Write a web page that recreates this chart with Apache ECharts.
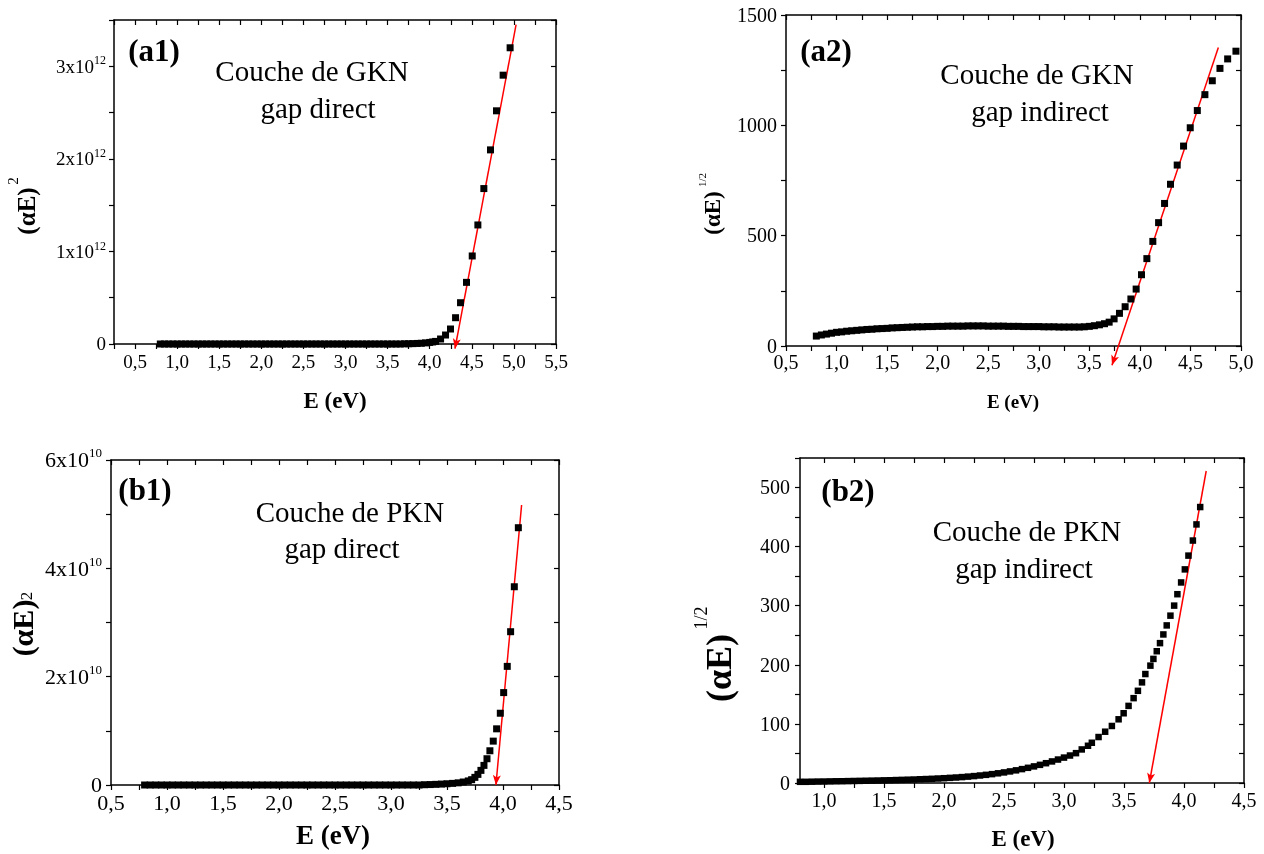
<!DOCTYPE html>
<html>
<head>
<meta charset="utf-8">
<script src="https://cdn.jsdelivr.net/npm/echarts@6/dist/echarts.min.js"></script>
<style>
html,body{margin:0;padding:0;background:#fff;}
#chart{width:1264px;height:854px;}
</style>
</head>
<body>
<div id="chart"></div>
<script>
// ---------- DATA ----------
// (a1) GKN, direct gap: (alpha E)^2 vs E
const a1Energy = [
 0.80,0.85,0.90,0.95,1.00,1.05,1.10,1.15,1.20,1.25,
 1.30,1.35,1.40,1.45,1.50,1.55,1.60,1.65,1.70,1.75,
 1.80,1.85,1.90,1.95,2.00,2.05,2.10,2.15,2.20,2.25,
 2.30,2.35,2.40,2.45,2.50,2.55,2.60,2.65,2.70,2.75,
 2.80,2.85,2.90,2.95,3.00,3.05,3.10,3.15,3.20,3.25,
 3.30,3.35,3.40,3.45,3.50,3.55,3.60,3.65,3.70,3.75,
 3.80,3.85,3.90,3.95,
 4.00,4.035,4.07,4.129,4.188,4.247,4.307,4.366,4.437,4.505,
 4.572,4.643,4.722,4.793,4.872,4.955
];
const a1Value = [
 0,0,0,0,0,0,0,0,0,0,
 0,0,0,0,0,0,0,0,0,0,
 0,0,0,0,0,0,0,0,0,0,
 0,0,0,0,0,0,0,0,0,0,
 0,0,0,0,0,0,0,0,0,0,
 0,0,0,0,0,0,0,0,0.002e12,0.003e12,
 0.004e12,0.006e12,0.008e12,0.012e12,
 0.017e12,0.022e12,0.028e12,0.054e12,0.097e12,0.162e12,0.284e12,0.446e12,0.666e12,0.951e12,
 1.286e12,1.679e12,2.097e12,2.519e12,2.904e12,3.20e12
];
const a1Fit = [[5.026, 3.45e12], [4.30, -0.05e12]];

// (a2) GKN, indirect gap: (alpha E)^1/2 vs E
const a2Energy = [
 0.80,0.85,0.90,0.95,1.00,1.05,1.10,1.15,1.20,1.25,
 1.30,1.35,1.40,1.45,1.50,1.55,1.60,1.65,1.70,1.75,
 1.80,1.85,1.90,1.95,2.00,2.05,2.10,2.15,2.20,2.25,
 2.30,2.35,2.40,2.45,2.50,2.55,2.60,2.65,2.70,2.75,
 2.80,2.85,2.90,2.95,3.00,3.05,3.10,3.15,3.20,3.25,
 3.30,3.35,3.40,3.45,3.50,3.55,3.60,3.65,
 3.696,3.745,3.798,3.854,3.911,3.963,4.016,4.069,4.128,4.185,
 4.244,4.303,4.369,4.432,4.498,4.568,4.643,4.716,4.792,4.868,4.95
];
const a2Value = [
 45,50,54,58,62,64,67,69,71,73,
 75,76,78,79,80,82,83,84,85,86,
 87,87,88,88,89,89,90,90,90,90,
 91,91,91,91,90,90,90,90,89,89,
 89,88,88,88,88,87,87,87,86,86,
 86,86,86,87,89,92,96,101,
 108,123,148,178,213,258,323,396,474,559,
 646,733,820,906,989,1067,1139,1202,1258,1301,1336
];
const a2Fit = [[4.776, 1353], [3.724, -87]];

// (b1) PKN, direct gap
const b1Energy = [
 0.80,0.85,0.90,0.95,1.00,1.05,1.10,1.15,1.20,1.25,
 1.30,1.35,1.40,1.45,1.50,1.55,1.60,1.65,1.70,1.75,
 1.80,1.85,1.90,1.95,2.00,2.05,2.10,2.15,2.20,2.25,
 2.30,2.35,2.40,2.45,2.50,2.55,2.60,2.65,2.70,2.75,
 2.80,2.85,2.90,2.95,3.00,3.05,3.10,3.15,3.20,3.25,
 3.30,3.35,3.40,3.45,3.50,3.55,3.60,
 3.645,3.69,3.72,3.749,3.776,3.803,3.830,3.857,3.883,3.913,
 3.943,3.976,4.006,4.038,4.068,4.101,4.137
];
const b1Value = [
 0,0,0,0,0,0,0,0,0,0,
 0,0,0,0,0,0,0,0,0,0,
 0,0,0,0,0,0,0,0,0,0,
 0,0,0,0,0,0,0,0,0,0,
 0,0,0,0,0,0,0,0,0,0,
 0.005e10,0.008e10,0.012e10,0.017e10,0.023e10,0.03e10,0.04e10,
 0.055e10,0.075e10,0.098e10,0.141e10,0.196e10,0.27e10,0.362e10,0.485e10,0.632e10,0.81e10,
 1.037e10,1.325e10,1.706e10,2.19e10,2.83e10,3.66e10,4.75e10
];
const b1Fit = [[4.166, 5.17e10], [3.937, 0]];

// (b2) PKN, indirect gap
const b2Energy = [
 0.80,0.85,0.90,0.95,1.00,1.05,1.10,1.15,1.20,1.25,
 1.30,1.35,1.40,1.45,1.50,1.55,1.60,1.65,1.70,1.75,
 1.80,1.85,1.90,1.95,2.00,2.05,2.10,2.15,2.20,2.25,
 2.30,2.35,2.40,2.45,2.50,2.55,2.60,2.65,2.70,2.75,
 2.80,2.85,2.90,2.95,
 3.00,3.05,3.10,3.148,3.20,3.232,3.288,3.343,3.399,3.455,
 3.497,3.538,3.58,3.616,3.65,3.678,3.72,3.745,3.773,3.80,
 3.828,3.856,3.887,3.918,3.945,3.976,4.007,4.037,4.074,4.104,4.135
];
const b2Value = [
 2.0,2.0,2.2,2.4,2.5,2.7,2.9,3.0,3.2,3.4,
 3.6,3.8,4.0,4.2,4.5,4.7,5.0,5.3,5.6,5.9,
 6.3,6.7,7.1,7.6,8.1,8.7,9.3,10.0,10.8,11.7,
 12.7,13.8,15.0,16.4,17.9,19.6,21.4,23.5,25.7,28.1,
 30.7,33.5,36.5,39.7,
 43,46.5,50.5,56.8,63,68.1,77.8,86.8,96.5,107.8,
 118,130.5,143.6,156,170.3,184.4,198.6,210,223,236.7,
 251.4,266.7,283.2,300.2,319.5,339.4,361.5,384.8,410.3,437.6,467
];
const b2Fit = [[4.185, 528], [3.711, 0]];

// tick values / tick labels
const a1XTicks = [0.25,0.5,0.75,1,1.25,1.5,1.75,2,2.25,2.5,2.75,3,3.25,3.5,3.75,4,4.25,4.5,4.75,5,5.25,5.5];
const a1XLabels = [0.5,1,1.5,2,2.5,3,3.5,4,4.5,5,5.5];
const a1YTicks = [0,0.5e12,1e12,1.5e12,2e12,2.5e12,3e12,3.5e12];
const a1YLabels = [0,1e12,2e12,3e12];

const a2XTicks = [0.5,0.75,1,1.25,1.5,1.75,2,2.25,2.5,2.75,3,3.25,3.5,3.75,4,4.25,4.5,4.75,5];
const a2XLabels = [0.5,1,1.5,2,2.5,3,3.5,4,4.5,5];
const a2YTicks = [0,250,500,750,1000,1250,1500];
const a2YLabels = [0,500,1000,1500];

const b1XTicks = [0.5,0.75,1,1.25,1.5,1.75,2,2.25,2.5,2.75,3,3.25,3.5,3.75,4,4.25,4.5];
const b1XLabels = [0.5,1,1.5,2,2.5,3,3.5,4,4.5];
const b1YTicks = [0,1e10,2e10,3e10,4e10,5e10,6e10];
const b1YLabels = [0,2e10,4e10,6e10];

const b2XTicks = [1,1.25,1.5,1.75,2,2.25,2.5,2.75,3,3.25,3.5,3.75,4,4.25,4.5];
const b2XLabels = [1,1.5,2,2.5,3,3.5,4,4.5];
const b2YTicks = [0,50,100,150,200,250,300,350,400,450,500,550];
const b2YLabels = [0,100,200,300,400,500];

// ---------- BUILD ----------
const FONT = '"Liberation Serif","Times New Roman",serif';
const comma = v => v.toFixed(1).replace('.', ',');
const sci = exp => v => v === 0 ? '{b|0}' : '{b|' + Math.round(v / Math.pow(10, exp)) + 'x10}{s|' + exp + '}';
const plain = v => '{b|' + v + '}';
const pairs = (xs, ys) => xs.map((x, i) => [x, ys[i]]);

const panels = [
  { grid:{left:114, top:20, width:442, height:324}, xr:[0.25,5.5], yr:[0,3.5e12],
    xt:a1XTicks, xl:a1XLabels, yt:a1YTicks, yl:a1YLabels, yf:sci(12), fs:19, sfs:12, xm:10, ym:8,
    data:pairs(a1Energy,a1Value), fit:a1Fit, sym:7 },
  { grid:{left:786, top:15, width:455, height:331}, xr:[0.5,5.0], yr:[0,1500],
    xt:a2XTicks, xl:a2XLabels, yt:a2YTicks, yl:a2YLabels, yf:plain, fs:20, sfs:12, xm:8, ym:9,
    data:pairs(a2Energy,a2Value), fit:a2Fit, sym:7 },
  { grid:{left:111, top:460, width:448, height:325}, xr:[0.5,4.5], yr:[0,6e10],
    xt:b1XTicks, xl:b1XLabels, yt:b1YTicks, yl:b1YLabels, yf:sci(10), fs:22, sfs:13, xm:8, ym:9,
    data:pairs(b1Energy,b1Value), fit:b1Fit, sym:7 },
  { grid:{left:800, top:458, width:444, height:325}, xr:[0.8,4.5], yr:[0,550],
    xt:b2XTicks, xl:b2XLabels, yt:b2YTicks, yl:b2YLabels, yf:plain, fs:20, sfs:12, xm:9, ym:10,
    data:pairs(b2Energy,b2Value), fit:b2Fit, sym:6.5 }
];

const lineStyle = {color:'#000', width:1.5};
const tickStyle = {color:'#000', width:1.2};
const grid = [], xAxis = [], yAxis = [], series = [];

panels.forEach((p, i) => {
  grid.push(Object.assign({containLabel:false}, p.grid));
  const rich = {
    b:{fontSize:p.fs, fontFamily:FONT, color:'#000', lineHeight:p.fs+3, verticalAlign:'bottom'},
    s:{fontSize:p.sfs, fontFamily:FONT, color:'#000', lineHeight:p.sfs, verticalAlign:'top'}
  };
  xAxis.push({
    gridIndex:i, type:'value', min:p.xr[0], max:p.xr[1], position:'bottom',
    axisLine:{show:true, onZero:false, lineStyle},
    axisTick:{show:true, inside:false, length:5, lineStyle:tickStyle, customValues:p.xt},
    axisLabel:{show:true, customValues:p.xl, formatter:comma, color:'#000', fontFamily:FONT, fontSize:p.fs, margin:p.xm},
    splitLine:{show:false}
  });
  xAxis.push({
    gridIndex:i, type:'value', min:p.xr[0], max:p.xr[1], position:'top',
    axisLine:{show:true, onZero:false, lineStyle},
    axisTick:{show:true, inside:true, length:5, lineStyle:tickStyle, customValues:p.xt},
    axisLabel:{show:false}, splitLine:{show:false}
  });
  yAxis.push({
    gridIndex:i, type:'value', min:p.yr[0], max:p.yr[1], position:'left',
    axisLine:{show:true, onZero:false, lineStyle},
    axisTick:{show:true, inside:false, length:5, lineStyle:tickStyle, customValues:p.yt},
    axisLabel:{show:true, customValues:p.yl, formatter:p.yf, rich, margin:p.ym},
    splitLine:{show:false}
  });
  yAxis.push({
    gridIndex:i, type:'value', min:p.yr[0], max:p.yr[1], position:'right',
    axisLine:{show:true, onZero:false, lineStyle},
    axisTick:{show:true, inside:true, length:5, lineStyle:tickStyle, customValues:p.yt},
    axisLabel:{show:false}, splitLine:{show:false}
  });
  series.push({
    type:'scatter', xAxisIndex:2*i, yAxisIndex:2*i, data:p.data,
    symbol:'rect', symbolSize:p.sym, itemStyle:{color:'#000', opacity:1}, silent:true, animation:false
  });
  series.push({
    type:'lines', coordinateSystem:'cartesian2d', xAxisIndex:2*i, yAxisIndex:2*i,
    clip:false, silent:true, animation:false, polyline:false,
    symbol:['none','arrow'], symbolSize:[1,[6,10]], symbolOffset:[0,[0,5]],
    lineStyle:{color:'#ff0000', width:1.5, opacity:1, curveness:0},
    data:[{coords:p.fit}]
  });
});

function txt(t, x, y, size, bold, rot) {
  return {
    type:'text', x, y, rotation: rot ? Math.PI/2 : 0, silent:true,
    style:{text:t, fill:'#000', font:(bold?'bold ':'') + size + 'px ' + FONT,
      align:'center', verticalAlign:'middle', textAlign:'center', textVerticalAlign:'middle'}
  };
}

const graphic = [
  // panel tags and annotations
  txt('(a1)', 154, 53, 31, true), txt('Couche de GKN', 312, 73, 29, false), txt('gap direct', 318, 110, 29, false),
  txt('(a2)', 826, 53, 31, true), txt('Couche de GKN', 1037, 76, 29, false), txt('gap indirect', 1040, 113, 29, false),
  txt('(b1)', 145, 492, 31, true), txt('Couche de PKN', 350, 514, 29, false), txt('gap direct', 342, 550, 29, false),
  txt('(b2)', 848, 493, 31, true), txt('Couche de PKN', 1027, 533, 29, false), txt('gap indirect', 1024, 570, 29, false),
  // x titles
  txt('E (eV)', 335, 402, 23, true), txt('E (eV)', 1013, 403, 19, true),
  txt('E (eV)', 333, 837, 27, true), txt('E (eV)', 1023, 840, 23, true),
  // y titles
  txt('(\u03B1E)', 29, 211, 25, true, true), txt('2', 14, 181, 15, false, true),
  txt('(\u03B1E)', 714, 213, 23, true, true), txt('1/2', 703, 180, 11, false, true),
  txt('(\u03B1E)', 25, 628, 30, true, true), txt('2', 28, 596, 17, false, true),
  txt('(\u03B1E)', 722, 668, 36, true, true), txt('1/2', 702, 618, 18, false, true)
];

const chart = echarts.init(document.getElementById('chart'), null, {renderer:'canvas'});
chart.setOption({
  backgroundColor:'#ffffff',
  animation:false,
  grid, xAxis, yAxis, series, graphic
});
</script>
</body>
</html>
